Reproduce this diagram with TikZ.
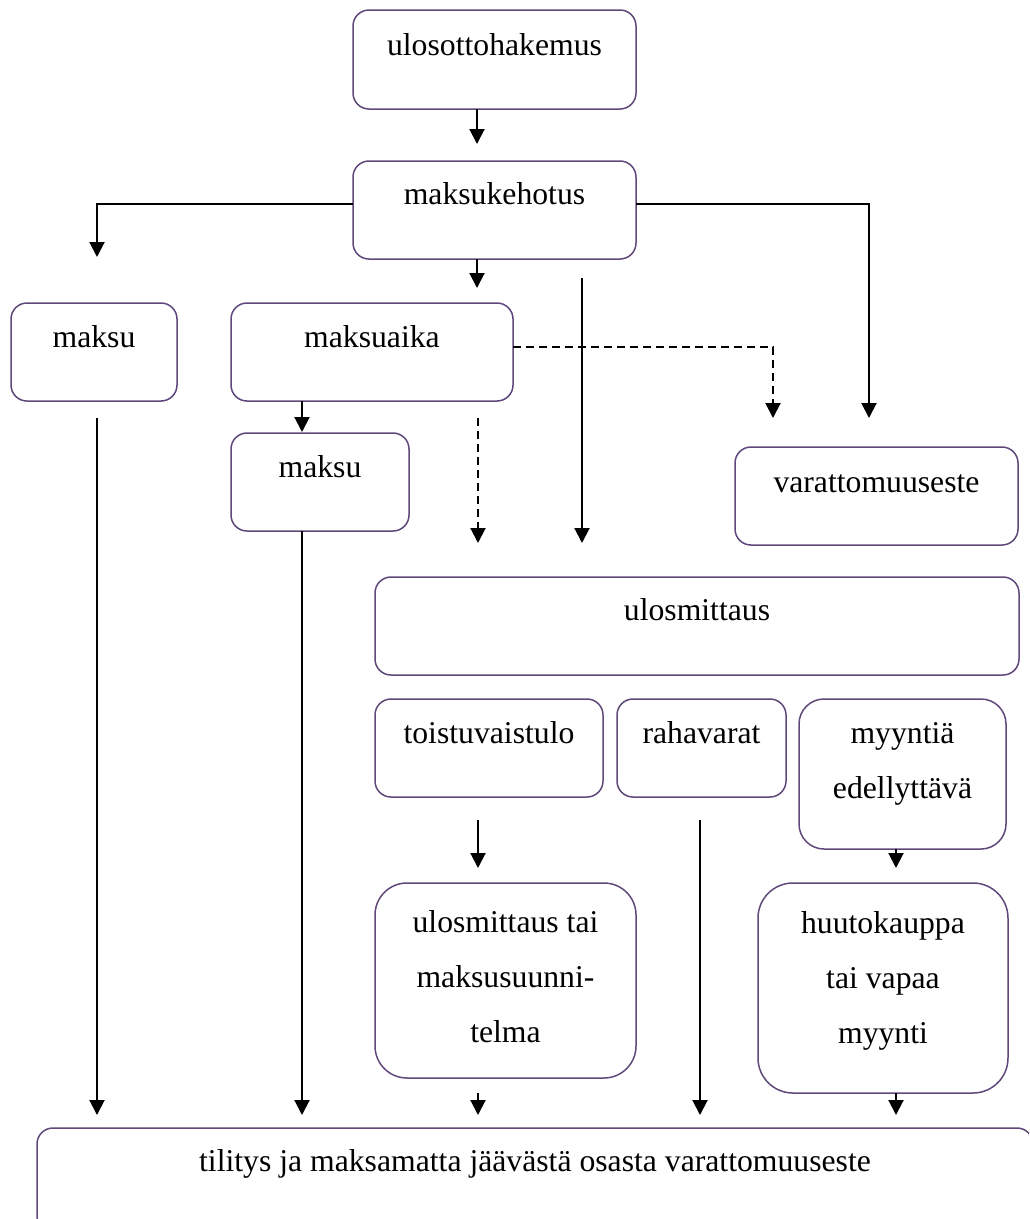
\documentclass[tikz,border=0pt]{standalone}
\usepackage{fontspec}
\setmainfont{Liberation Serif}
\usetikzlibrary{arrows.meta}
\definecolor{boxpurple}{RGB}{96,73,122}
\newcommand{\boxat}[6]{%
  \node[boxnode, rounded corners=#6, minimum width={#4-#2}, minimum height={#5-#3}, anchor=north west] (#1) at (#2,#3) {};}
\begin{document}
\begin{tikzpicture}[x=1pt,y=-1pt,
  boxnode/.style={draw=boxpurple, line width=1.5pt, fill=white, inner sep=0pt, outer sep=0pt},
  lbl/.style={inner sep=0pt, outer sep=0pt, align=center, font=\fontsize{31.7pt}{55pt}\selectfont},
  arr/.style={line width=2pt, -{Triangle[width=15pt,length=15pt]}},
  dsh/.style={dash pattern=on 8pt off 5pt}]
\clip (0,0) rectangle (1029,1219);
\fill[white] (0,0) rectangle (1029,1219);
% boxes
\boxat{A}{353}{10}{636}{109}{16pt}
\boxat{B}{353}{161}{636}{259}{16pt}
\boxat{M1}{11}{303}{177}{401}{16pt}
\boxat{MA}{231}{303}{513}{401}{16pt}
\boxat{M2}{231}{433}{409}{531}{16pt}
\boxat{V}{735}{447}{1018}{545}{16pt}
\boxat{U}{375}{577}{1019}{675}{16pt}
\boxat{T}{375}{699}{603}{797}{16pt}
\boxat{R}{617}{699}{786}{797}{16pt}
\boxat{MY}{799}{699}{1006}{849}{25pt}
\boxat{UT}{375}{883}{636}{1078}{32pt}
\boxat{H}{758}{883}{1008}{1093}{35pt}
\boxat{BOT}{37}{1128}{1033}{1232}{16pt}
% texts
\node[lbl, anchor=base] (tA) at (494.5,55) {ulosottohakemus};
\node[lbl, anchor=base] (tB) at (494.5,204) {maksukehotus};
\node[lbl, anchor=base] (tM1) at (94,347) {maksu};
\node[lbl, anchor=base] (tMA) at (372,347) {maksuaika};
\node[lbl, anchor=base] (tM2) at (320,477) {maksu};
\node[lbl, anchor=base] (tV) at (876.5,492) {varattomuuseste};
\node[lbl, anchor=base] (tU) at (697,620) {ulosmittaus};
\node[lbl, anchor=base] (tT) at (489,743) {toistuvaistulo};
\node[lbl, anchor=base] (tR) at (701.5,743) {rahavarat};
\node[lbl, anchor=north] (tMY) at (902.5,722.5) {myyntiä\\edellyttävä};
\node[lbl, anchor=north] (tUT) at (505.5,910.5) {ulosmittaus tai\\maksusuunni-\\telma};
\node[lbl, anchor=north] (tH) at (883,911) {huutokauppa\\tai vapaa\\myynti};
\node[lbl, anchor=base] (tBOT) at (535,1171) {tilitys ja maksamatta jäävästä osasta varattomuuseste};
% connector coordinates
\coordinate (yB) at (0,204);
\coordinate (yMA) at (0,347);
\coordinate (tipB) at (477,144);
\coordinate (tipM1) at (97,257);
\coordinate (tipV) at (869,418);
\coordinate (tipMA) at (477,288);
\coordinate (sU) at (582,278);
\coordinate (tipU) at (582,543);
\coordinate (tipVd) at (773,418);
\coordinate (tipM2) at (302,432);
\coordinate (sD) at (478,418);
\coordinate (tipD) at (478,543);
\coordinate (sM1) at (97,418);
\coordinate (tipM1b) at (97,1115);
\coordinate (tipM2b) at (302,1115);
\coordinate (sT) at (478,820);
\coordinate (tipT) at (478,868);
\coordinate (sR) at (700,820);
\coordinate (tipR) at (700,1115);
\coordinate (tipMY) at (896,868);
\coordinate (sUT) at (478,1093);
\coordinate (tipUT) at (478,1115);
\coordinate (tipH) at (896,1115);
% connectors
\draw[arr] (A.south -| tipB) -- (tipB);
\draw[arr] (B.west |- yB) -| (tipM1);
\draw[arr] (B.east |- yB) -| (tipV);
\draw[arr] (B.south -| tipMA) -- (tipMA);
\draw[arr] (sU) -- (tipU);
\draw[arr, dsh] (MA.east |- yMA) -| (tipVd);
\draw[arr] (MA.south -| tipM2) -- (tipM2);
\draw[arr, dsh] (sD) -- (tipD);
\draw[arr] (sM1) -- (tipM1b);
\draw[arr] (M2.south -| tipM2b) -- (tipM2b);
\draw[arr] (sT) -- (tipT);
\draw[arr] (sR) -- (tipR);
\draw[arr] (MY.south -| tipMY) -- (tipMY);
\draw[arr] (sUT) -- (tipUT);
\draw[arr] (H.south -| tipH) -- (tipH);
\end{tikzpicture}
\end{document}
